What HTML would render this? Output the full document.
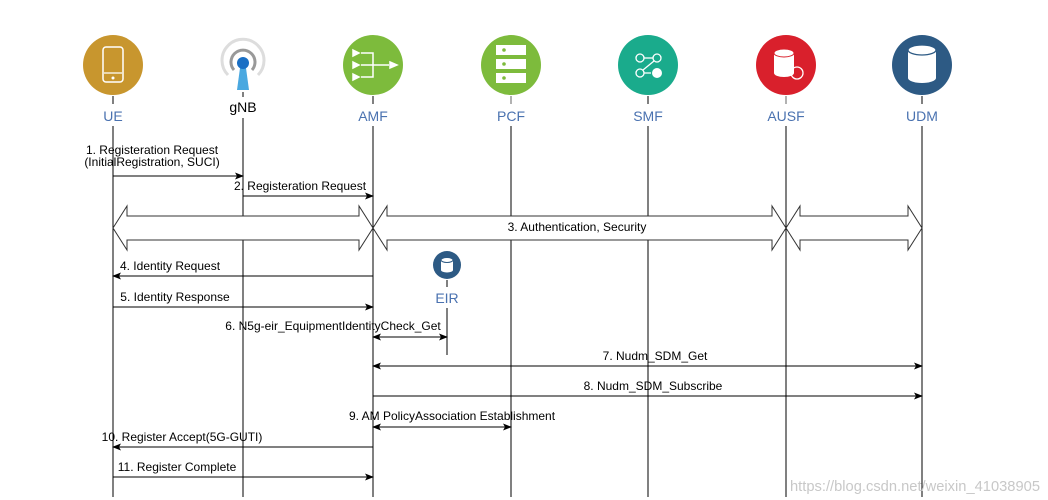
<!DOCTYPE html>
<html><head><meta charset="utf-8"><style>
html,body{margin:0;padding:0;background:#fff;width:1048px;height:500px;overflow:hidden}
text{font-family:"Liberation Sans",sans-serif}
</style></head><body>
<svg width="1048" height="500" viewBox="0 0 1048 500" xmlns="http://www.w3.org/2000/svg">
<defs>
<marker id="a" markerWidth="9" markerHeight="9" refX="8" refY="4.5" orient="auto" markerUnits="userSpaceOnUse"><path d="M0,1 L9,4.5 L0,8 L2,4.5 Z" fill="#000"/></marker>
<marker id="b" markerWidth="9" markerHeight="9" refX="1" refY="4.5" orient="auto" markerUnits="userSpaceOnUse"><path d="M9,1 L0,4.5 L9,8 L7,4.5 Z" fill="#000"/></marker>
</defs>
<g stroke="#000" stroke-width="1">
<line x1="113" y1="96" x2="113" y2="104"/><line x1="113" y1="126" x2="113" y2="497"/>
<line x1="243" y1="92" x2="243" y2="97"/><line x1="243" y1="118" x2="243" y2="497"/>
<line x1="373" y1="96" x2="373" y2="104"/><line x1="373" y1="126" x2="373" y2="497"/>
<line x1="511" y1="96" x2="511" y2="104" stroke="#666"/><line x1="511" y1="126" x2="511" y2="497"/>
<line x1="648" y1="96" x2="648" y2="104"/><line x1="648" y1="126" x2="648" y2="497"/>
<line x1="786" y1="96" x2="786" y2="104" stroke="#666"/><line x1="786" y1="126" x2="786" y2="497"/>
<line x1="922" y1="96" x2="922" y2="104"/><line x1="922" y1="126" x2="922" y2="497"/>
<line x1="447" y1="280" x2="447" y2="287"/><line x1="447" y1="308" x2="447" y2="355"/>
</g>
<circle cx="113" cy="65" r="30" fill="#c8962e"/>
<rect x="103" y="47" width="20" height="35" rx="3" fill="none" stroke="#fff" stroke-width="1.5"/>
<line x1="104" y1="73" x2="122" y2="73" stroke="#fff" stroke-width="1.2"/>
<circle cx="113" cy="78" r="1.5" fill="#fff"/>
<path d="M228,75 A21,21 0 1 1 258,75" fill="none" stroke="#ddd" stroke-width="3"/>
<path d="M234,70 A12,12 0 1 1 252,70" fill="none" stroke="#999" stroke-width="3"/>
<path d="M240,68 L246,68 L249,90 L237,90 Z" fill="#4aa8e0"/>
<circle cx="243" cy="63" r="6" fill="#1a6fc4"/>
<circle cx="373" cy="65" r="30" fill="#7dbb3c"/>
<g fill="#fff" stroke="#fff" stroke-width="1.5">
<path d="M353,50 l6,3 -6,3z"/><path d="M353,62 l6,3 -6,3z"/><path d="M353,74 l6,3 -6,3z"/><path d="M390,62 l7,3 -7,3z"/>
<path d="M361,53 h12 v24 h-12 M373,65 h16 M361,65 h12" fill="none"/></g>
<circle cx="511" cy="65" r="30" fill="#7dbb3c"/>
<g fill="#fff"><rect x="496" y="45" width="30" height="10"/><rect x="496" y="59" width="30" height="10"/><rect x="496" y="73" width="30" height="10"/></g>
<g fill="#7dbb3c"><circle cx="504" cy="50" r="1.8"/><circle cx="504" cy="64" r="1.8"/><circle cx="504" cy="78" r="1.8"/></g>
<circle cx="648" cy="65" r="30" fill="#1aab8c"/>
<g fill="none" stroke="#fff" stroke-width="1.3"><circle cx="640" cy="58" r="4"/><circle cx="657" cy="58" r="4"/><circle cx="640" cy="73" r="4"/><line x1="644" y1="58" x2="653" y2="58"/><line x1="643" y1="70" x2="654" y2="61"/><line x1="644" y1="73" x2="651" y2="73"/></g>
<circle cx="657" cy="73" r="5" fill="#fff"/>
<circle cx="786" cy="65" r="30" fill="#d9202c"/>
<path d="M774,53 v20 a10,4 0 0 0 20,0 v-20 z" fill="#fff"/><ellipse cx="784" cy="53" rx="10" ry="4" fill="#fff" stroke="#d9202c"/>
<circle cx="797" cy="73" r="6" fill="none" stroke="#fff" stroke-width="1.3"/>
<circle cx="922" cy="65" r="30" fill="#2d5a84"/>
<path d="M908,50 v28 a14,5 0 0 0 28,0 v-28 z" fill="#fff"/><ellipse cx="922" cy="50" rx="14" ry="5" fill="#fff" stroke="#2d5a84" stroke-width="1.3"/>
<circle cx="447" cy="265" r="14" fill="#2d5a84"/>
<path d="M441,260 v10 a6,2.5 0 0 0 12,0 v-10 z" fill="#fff"/><ellipse cx="447" cy="260" rx="6" ry="2.5" fill="#fff" stroke="#2d5a84"/>
<g font-size="14" fill="#4a72b0" text-anchor="middle">
<text x="113" y="121">UE</text><text x="373" y="121">AMF</text><text x="511" y="121">PCF</text>
<text x="648" y="121">SMF</text><text x="786" y="121">AUSF</text><text x="922" y="121">UDM</text>
<text x="447" y="303">EIR</text></g>
<text x="243" y="112" font-size="14" text-anchor="middle" fill="#000">gNB</text>
<g fill="#fff" stroke="#333" stroke-width="1">
<path d="M113,228 L127,206 L127,216 L359,216 L359,206 L373,228 L359,250 L359,240 L127,240 L127,250 Z"/>
<path d="M373,228 L387,206 L387,216 L772,216 L772,206 L786,228 L772,250 L772,240 L387,240 L387,250 Z"/>
<path d="M786,228 L800,206 L800,216 L908,216 L908,206 L922,228 L908,250 L908,240 L800,240 L800,250 Z"/>
</g>
<g stroke="#000" stroke-width="1" fill="none">
<line x1="113" y1="176" x2="243" y2="176" marker-end="url(#a)"/>
<line x1="243" y1="196" x2="373" y2="196" marker-end="url(#a)"/>
<line x1="373" y1="276" x2="113" y2="276" marker-end="url(#a)"/>
<line x1="113" y1="307" x2="373" y2="307" marker-end="url(#a)"/>
<line x1="373" y1="337" x2="447" y2="337" marker-start="url(#b)" marker-end="url(#a)"/>
<line x1="373" y1="366" x2="922" y2="366" marker-start="url(#b)" marker-end="url(#a)"/>
<line x1="373" y1="396" x2="922" y2="396" marker-end="url(#a)"/>
<line x1="373" y1="427" x2="511" y2="427" marker-start="url(#b)" marker-end="url(#a)"/>
<line x1="373" y1="447" x2="113" y2="447" marker-end="url(#a)"/>
<line x1="113" y1="477" x2="373" y2="477" marker-end="url(#a)"/>
</g>
<g font-size="12" fill="#000" text-anchor="middle">
<text x="152" y="154">1. Registeration Request</text>
<text x="152" y="166">(InitialRegistration,  SUCI)</text>
<text x="300" y="190">2. Registeration Request</text>
<text x="577" y="231">3. Authentication, Security</text>
<text x="170" y="270">4. Identity Request</text>
<text x="175" y="301">5. Identity Response</text>
<text x="333" y="330">6. N5g-eir_EquipmentIdentityCheck_Get</text>
<text x="655" y="360">7. Nudm_SDM_Get</text>
<text x="653" y="390">8. Nudm_SDM_Subscribe</text>
<text x="452" y="420">9. AM PolicyAssociation Establishment</text>
<text x="182" y="441">10. Register Accept(5G-GUTI)</text>
<text x="177" y="471">11. Register Complete</text>
</g>
<text x="1040" y="491" font-size="15" fill="#c8c8c8" text-anchor="end" textLength="250" lengthAdjust="spacingAndGlyphs">https://blog.csdn.net/weixin_41038905</text>
</svg>
</body></html>
